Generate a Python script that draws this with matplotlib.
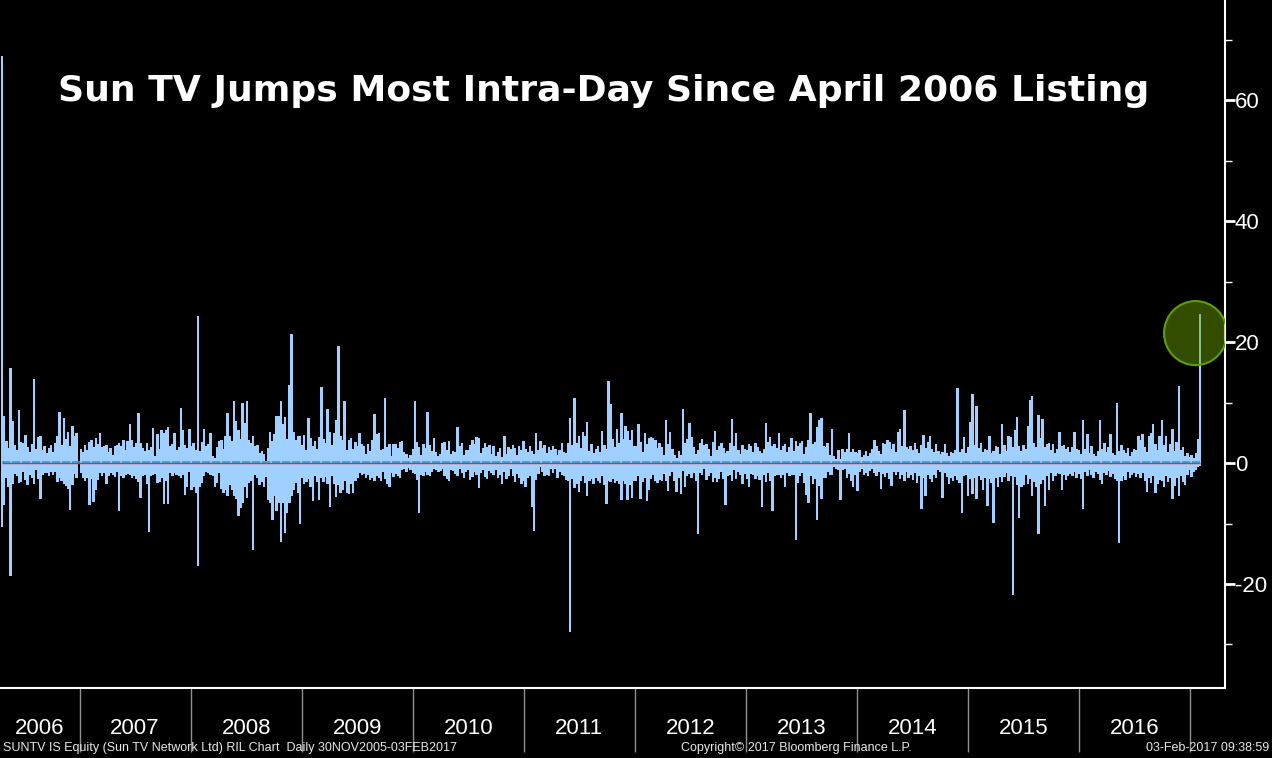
import matplotlib
matplotlib.use('Agg')
import matplotlib.pyplot as plt
import matplotlib.transforms as mtransforms
from matplotlib.patches import Ellipse
import matplotlib.dates as mdates
import pandas as pd

plt.rcParams['axes.unicode_minus'] = False

# weekly largest gain / largest loss (%), one list per year
up_2006 = [67.4, 7.8, 3.7, 2.5, 15.7, 6.9, 3.0, 2.2, 8.8, 3.5, 3.3, 4.7, 2.6, 1.8, 3.2, 13.9, 2.4, 4.3,
           4.4, 2.1, 2.8, 1.6, 2.5, 3.0, 1.8, 3.3, 4.5, 8.5, 3.0, 7.5, 4.0, 5.2, 2.8, 6.2, 4.4, 4.9]
dn_2006 = [-10.5, -6.9, -2.5, -4.0, -18.6, -3.5, -1.8, -2.2, -3.3, -3.1, -1.5, -2.8, -3.6, -1.9, -2.4, -3.4, -1.2, -2.6,
           -6.0, -1.9, -1.7, -1.6, -2.2, -1.4, -1.9, -1.5, -3.2, -2.4, -2.9, -3.5, -3.8, -4.3, -7.7, -3.6, -1.8, -2.5]

up_2007 = [2.4, 1.8, 3.0, 2.2, 3.5, 3.9, 2.6, 4.2, 3.1, 5.0, 2.7, 2.8, 3.0, 1.9, 2.5, 1.4, 2.9, 3.0,
           3.4, 2.8, 3.9, 2.2, 3.7, 6.5, 3.9, 2.6, 3.3, 8.3, 3.3, 2.5, 2.0, 3.4, 2.1, 2.7, 5.8, 1.2,
           4.8, 2.4, 5.5, 4.9, 5.4, 6.0, 2.8, 3.1, 4.9, 2.2, 2.6, 9.1, 5.4, 3.0, 2.5, 5.6]
dn_2007 = [-1.7, -2.4, -3.0, -2.5, -7.0, -2.6, -6.4, -4.4, -2.8, -1.7, -2.2, -1.7, -3.5, -2.2, -1.6, -2.0, -2.3, -1.5,
           -8.0, -2.1, -2.4, -1.9, -1.8, -2.0, -2.5, -2.1, -2.6, -3.1, -5.8, -2.2, -2.0, -3.4, -11.4, -2.1, -2.0, -1.8,
           -3.3, -3.2, -2.5, -6.7, -3.0, -6.7, -1.7, -2.2, -1.7, -1.9, -2.2, -2.4, -2.0, -5.2, -3.9, -1.4]

up_2008 = [2.8, 3.3, 2.2, 24.3, 2.0, 3.5, 5.6, 2.9, 3.1, 5.0, 1.1, 0.9, 2.6, 3.6, 3.9, 2.4, 4.4, 8.3,
           4.4, 3.7, 10.2, 6.9, 5.5, 4.0, 10.0, 6.6, 10.2, 3.9, 3.3, 4.5, 2.8, 3.0, 1.7, 2.0, 1.5, 0.3,
           2.5, 5.2, 3.6, 4.8, 7.8, 7.8, 10.3, 6.5, 7.7, 4.0, 13.0, 21.4, 5.2, 3.8, 4.4, 4.4]
dn_2008 = [-4.4, -3.9, -5.0, -17.1, -3.9, -3.3, -2.2, -1.4, -1.7, -2.0, -2.2, -3.9, -3.3, -1.7, -4.3, -5.0, -4.4, -5.5,
           -3.6, -4.4, -5.5, -6.0, -8.8, -7.5, -6.6, -4.0, -5.8, -3.3, -3.0, -14.4, -1.9, -2.5, -3.6, -3.2, -3.9, -2.3,
           -6.1, -6.6, -9.4, -5.5, -8.0, -6.6, -13.1, -6.6, -11.5, -8.3, -6.6, -5.5, -4.4, -3.3, -5.0, -10.0]

up_2009 = [3.0, 4.6, 2.2, 7.5, 4.1, 2.9, 3.6, 2.4, 4.3, 12.6, 4.0, 3.3, 9.0, 5.2, 3.0, 4.9, 7.2, 19.4,
           4.4, 3.8, 10.2, 2.1, 3.8, 4.2, 2.3, 3.5, 2.9, 5.0, 3.2, 2.8, 1.5, 3.1, 2.0, 3.8, 8.2, 4.8,
           4.9, 2.1, 2.4, 10.8, 2.6, 3.1, 1.2, 3.1, 3.2, 2.5, 3.5, 3.6, 1.9, 1.5, 0.8, 1.4]
dn_2009 = [-2.4, -3.4, -3.1, -2.6, -4.0, -6.2, -2.1, -3.1, -6.1, -2.5, -3.2, -2.3, -3.5, -7.3, -2.1, -3.5, -5.6, -3.7,
           -5.0, -4.4, -3.0, -5.0, -5.1, -3.4, -5.0, -2.9, -2.5, -1.6, -2.0, -1.8, -2.5, -1.9, -2.8, -2.4, -2.9, -2.2,
           -2.5, -2.9, -1.5, -2.6, -3.4, -3.9, -1.6, -2.3, -1.8, -2.1, -2.5, -1.2, -1.0, -1.4, -0.8, -1.1]

up_2010 = [2.3, 10.3, 3.5, 2.6, 1.4, 3.2, 2.5, 8.5, 3.0, 2.0, 4.2, 1.9, 1.2, 1.5, 3.3, 3.5, 2.2, 3.6,
           1.5, 2.0, 1.8, 6.0, 2.8, 3.4, 1.4, 2.1, 2.2, 3.0, 3.8, 3.1, 4.3, 4.1, 1.6, 2.5, 3.3, 2.6,
           3.0, 1.5, 2.8, 1.2, 1.9, 2.5, 1.0, 4.4, 1.5, 2.6, 2.4, 3.0, 2.5, 1.4, 2.8, 2.2, 3.7]
dn_2010 = [-1.6, -1.8, -2.8, -8.3, -1.9, -2.2, -1.5, -1.9, -2.1, -1.4, -1.0, -1.2, -1.4, -1.3, -1.0, -2.2, -2.7, -2.9,
           -1.1, -1.3, -1.8, -2.1, -1.0, -1.6, -2.4, -1.5, -1.2, -2.8, -2.3, -1.4, -1.9, -4.1, -1.7, -1.1, -2.3, -2.6,
           -1.3, -1.6, -2.0, -1.2, -2.4, -1.9, -3.5, -1.4, -2.6, -2.1, -1.0, -2.2, -3.2, -1.8, -2.4, -3.5, -2.9]

up_2011 = [2.4, 1.8, 2.9, 2.0, 1.5, 5.0, 2.2, 3.6, 2.5, 3.0, 1.7, 2.6, 2.2, 2.9, 2.4, 1.3, 2.1, 3.3,
           1.9, 1.7, 3.4, 7.5, 3.0, 10.8, 3.3, 4.4, 2.5, 5.2, 4.4, 6.8, 2.0, 3.1, 1.6, 2.3, 2.9, 1.8,
           5.3, 3.0, 2.4, 13.6, 9.7, 4.0, 2.6, 5.6, 3.4, 8.3, 4.0, 6.2, 5.3, 3.8, 5.5, 2.9]
dn_2011 = [-3.9, -2.5, -2.1, -7.3, -11.2, -2.8, -1.8, -0.6, -1.5, -2.2, -1.9, -2.2, -1.0, -1.6, -0.9, -2.4, -1.4, -2.0,
           -2.1, -2.8, -3.0, -27.9, -2.6, -4.1, -3.4, -4.7, -3.0, -2.2, -3.3, -5.4, -3.0, -2.6, -3.5, -2.4, -2.9, -3.3,
           -2.2, -3.6, -6.8, -3.0, -3.2, -2.6, -3.3, -2.9, -3.5, -6.1, -3.0, -3.4, -6.1, -3.6, -5.7, -3.0]

up_2012 = [2.8, 6.4, 3.5, 1.9, 5.0, 3.1, 4.2, 4.3, 4.1, 3.9, 2.5, 3.3, 2.6, 1.4, 7.2, 3.1, 5.2, 2.3,
           1.4, 0.8, 2.0, 1.3, 9.0, 3.3, 4.0, 6.7, 4.3, 2.6, 1.5, 2.2, 3.3, 4.0, 3.0, 3.2, 2.3, 1.2,
           3.5, 5.3, 2.1, 2.9, 3.4, 2.5, 1.6, 2.0, 3.3, 7.3, 2.8, 4.9, 2.1, 1.5, 3.0, 2.3]
dn_2012 = [-3.0, -2.2, -5.9, -3.1, -2.4, -6.2, -4.4, -2.6, -2.0, -2.9, -3.3, -2.8, -2.9, -1.8, -3.0, -4.6, -2.1, -1.5,
           -2.9, -4.7, -2.5, -5.1, -1.3, -3.9, -2.2, -1.8, -2.4, -1.7, -3.0, -11.7, -1.6, -2.0, -1.0, -2.8, -2.1, -1.7,
           -3.1, -2.4, -3.2, -2.6, -1.5, -2.7, -7.0, -2.2, -1.9, -2.9, -1.2, -2.6, -1.4, -2.0, -3.4, -1.8]

up_2013 = [2.2, 3.2, 2.9, 1.9, 3.3, 2.6, 2.0, 1.6, 2.4, 6.6, 3.5, 4.3, 2.8, 3.2, 2.5, 5.0, 2.1, 2.9,
           3.1, 1.8, 2.6, 4.2, 2.0, 3.6, 2.8, 3.4, 3.7, 1.5, 2.7, 3.8, 8.3, 3.1, 3.5, 6.0, 7.1, 7.5,
           2.9, 2.6, 3.3, 1.4, 5.7, 1.2, 0.7, 2.2, 0.6, 2.4, 1.9, 2.4, 4.9, 1.8, 2.3, 1.9]
dn_2013 = [-2.6, -4.0, -1.8, -1.9, -2.6, -2.2, -2.8, -7.2, -2.0, -3.1, -1.6, -2.9, -8.0, -2.2, -2.0, -1.9, -2.5, -2.0,
           -3.9, -1.6, -2.1, -2.0, -1.9, -12.7, -3.3, -2.2, -1.6, -3.3, -5.2, -6.6, -2.1, -3.5, -2.7, -9.4, -3.8, -6.0,
           -2.4, -2.5, -1.4, -1.9, -2.0, -0.6, -0.9, -1.2, -6.1, -1.1, -0.9, -2.4, -1.8, -2.9, -3.9, -1.9]

up_2014 = [1.6, 2.2, 1.0, 1.4, 2.0, 1.2, 1.7, 2.3, 3.9, 2.9, 2.0, 1.5, 3.4, 3.1, 3.9, 3.5, 2.4, 3.2,
           1.8, 5.2, 5.7, 2.9, 8.8, 2.6, 2.4, 2.9, 2.1, 3.3, 2.3, 1.6, 3.0, 4.7, 2.5, 3.5, 4.5, 2.4,
           1.9, 3.1, 2.0, 1.5, 1.9, 3.1, 1.6, 1.2, 1.9, 1.7, 2.1, 12.5, 1.8, 2.4, 4.3, 1.7]
dn_2014 = [-4.6, -1.4, -1.0, -1.9, -1.6, -2.2, -1.3, -1.0, -1.6, -2.1, -1.5, -4.3, -1.8, -2.3, -1.7, -2.6, -3.8, -1.4,
           -2.0, -1.5, -2.7, -1.9, -3.0, -1.4, -2.4, -2.0, -2.8, -1.6, -3.3, -2.2, -7.6, -2.5, -5.5, -2.0, -2.6, -3.2,
           -1.9, -2.5, -1.2, -1.4, -5.7, -1.7, -2.3, -3.4, -2.5, -3.0, -2.1, -2.8, -3.3, -8.3, -2.2, -2.0]

up_2015 = [2.6, 6.8, 11.4, 3.0, 9.4, 2.5, 3.3, 1.8, 2.4, 2.2, 4.5, 1.6, 2.0, 2.8, 2.7, 1.5, 6.4, 3.0,
           2.0, 4.5, 4.3, 2.6, 5.5, 7.7, 2.9, 2.0, 3.0, 2.3, 6.2, 10.4, 11.1, 3.4, 2.7, 8.0, 4.2, 7.3,
           2.6, 3.2, 3.3, 2.1, 3.2, 1.6, 2.3, 5.2, 2.8, 3.0, 2.4, 2.7, 1.9, 2.6, 5.1, 2.3]
dn_2015 = [-5.4, -2.6, -5.1, -2.5, -5.9, -2.2, -2.8, -4.4, -2.4, -7.1, -2.7, -3.3, -9.9, -2.5, -4.0, -2.3, -3.1, -2.3,
           -1.7, -3.0, -2.1, -21.8, -2.3, -3.6, -9.0, -3.9, -3.7, -2.0, -3.4, -2.7, -5.4, -3.1, -4.0, -11.7, -3.5, -2.8,
           -7.1, -2.1, -4.5, -1.7, -3.0, -2.2, -1.6, -1.8, -4.5, -2.0, -2.8, -2.1, -1.8, -2.2, -1.5, -2.4]

up_2016 = [2.1, 1.5, 7.1, 2.4, 4.8, 1.6, 2.8, 1.5, 1.2, 2.0, 7.2, 2.3, 3.3, 1.9, 2.6, 4.8, 1.7, 1.3,
           9.9, 2.0, 3.0, 2.2, 1.6, 2.5, 1.2, 1.8, 2.4, 2.1, 4.5, 3.8, 4.8, 2.7, 1.9, 4.4, 4.9, 6.4,
           3.2, 2.1, 4.5, 7.2, 3.0, 4.4, 1.8, 3.2, 5.6, 2.0, 3.5, 12.8, 2.1, 2.6, 1.2, 1.6, 1.0]
dn_2016 = [-1.8, -2.6, -7.6, -1.5, -2.2, -1.2, -1.9, -2.4, -1.4, -1.8, -2.8, -3.4, -1.6, -2.0, -1.3, -2.3, -1.8, -2.6,
           -3.0, -13.2, -3.0, -2.1, -2.8, -1.5, -2.4, -1.9, -1.6, -2.3, -1.8, -2.4, -1.7, -2.9, -4.8, -2.5, -3.3, -2.2,
           -4.9, -3.5, -2.8, -3.0, -4.0, -2.2, -3.1, -2.4, -6.0, -3.8, -2.5, -5.4, -2.2, -3.1, -3.6, -1.9, -1.2]

up_2017 = [1.3, 0.9, 1.6, 4.0, 24.7]
dn_2017 = [-2.3, -1.5, -1.1, -0.6, -0.4]

years = list(range(2006, 2018))
ups = [up_2006, up_2007, up_2008, up_2009, up_2010, up_2011, up_2012, up_2013, up_2014, up_2015, up_2016, up_2017]
dns = [dn_2006, dn_2007, dn_2008, dn_2009, dn_2010, dn_2011, dn_2012, dn_2013, dn_2014, dn_2015, dn_2016, dn_2017]

title = 'Sun TV Jumps Most Intra-Day Since April 2006 Listing'
footer_left = 'SUNTV IS Equity (Sun TV Network Ltd) RIL Chart  Daily 30NOV2005-03FEB2017'
footer_mid = 'Copyright\u00a9 2017 Bloomberg Finance L.P.'
footer_right = '03-Feb-2017 09:38:59'

BAR = '#9fd0ff'

dates, up_vals, dn_vals = [], [], []
for yr, u, d in zip(years, ups, dns):
    start = '2006-04-21' if yr == 2006 else f'{yr}-01-01'
    n = min(len(u), len(d))
    dates += list(pd.date_range(start, periods=n, freq='W-FRI'))
    up_vals += u[:n]
    dn_vals += d[:n]

fig = plt.figure(figsize=(12.72, 7.58), dpi=100, facecolor='black')
ax = fig.add_axes([0, 70 / 758, 1225 / 1272, 688 / 758])
ax.set_facecolor('black')

ax.bar(dates, up_vals, width=8, color=BAR, linewidth=0, antialiased=False)
ax.bar(dates, dn_vals, width=8, color=BAR, linewidth=0, antialiased=False)
ax.hlines(0.17, dates[0], dates[-1], color='#00b0f0', lw=1.2, linestyles=[(0, (5, 1))])
ax.hlines(0, dates[0], dates[-1], color='#ff2020', lw=1)

x0, x1 = pd.Timestamp('2006-04-14'), pd.Timestamp('2017-04-26')
ax.set_xlim(x0, x1)
ax.set_ylim(-37.2, 76.6)

# highlight the last spike
cx = mdates.date2num(dates[-1]) - 15
ax.add_patch(Ellipse((cx, 21.5), 207, 10.6, facecolor=(0.44, 0.67, 0.0, 0.45),
                     edgecolor='#5f9e00', lw=1.5, zorder=5))

ax.yaxis.tick_right()
ax.set_yticks([-20, 0, 20, 40, 60])
ax.set_yticks([-30, -10, 10, 30, 50, 70], minor=True)
ax.tick_params(axis='y', which='major', colors='white', labelsize=16, length=7, width=2, pad=0)
ax.tick_params(axis='y', which='minor', colors='white', length=5, width=1)
for lab in ax.get_yticklabels():
    lab.set_family('Liberation Sans')

ax.set_xticks([pd.Timestamp(f'{y}-01-01') for y in range(2007, 2018)])
ax.tick_params(axis='x', which='major', length=46, color='#909090', width=1, labelbottom=False)

for s in ['left', 'top']:
    ax.spines[s].set_visible(False)
for s in ['right', 'bottom']:
    ax.spines[s].set_color('white')
    ax.spines[s].set_linewidth(1.5)

trans = mtransforms.blended_transform_factory(ax.transData, fig.transFigure)
for y in range(2006, 2017):
    a = max(x0, pd.Timestamp(f'{y}-01-01'))
    b = pd.Timestamp(f'{y + 1}-01-01')
    mid = a + (b - a) / 2
    ax.text(mid, 1 - 728 / 758, str(y), transform=trans, ha='center', va='center',
            color='white', fontsize=16, family='Liberation Sans')

fig.text(604 / 1272, 1 - 91 / 758, title, ha='center', va='center', color='white',
         fontsize=26, fontweight='bold', family='DejaVu Sans')

fy = 1 - 748 / 758
fig.text(0.002, fy, footer_left, ha='left', va='center', color='#e8e8e8', fontsize=9, family='Liberation Sans')
fig.text(681 / 1272, fy, footer_mid, ha='left', va='center', color='#e8e8e8', fontsize=9, family='Liberation Sans')
fig.text(0.998, fy, footer_right, ha='right', va='center', color='#e8e8e8', fontsize=9, family='Liberation Sans')

fig.savefig('out.png', dpi=100, facecolor='black')
